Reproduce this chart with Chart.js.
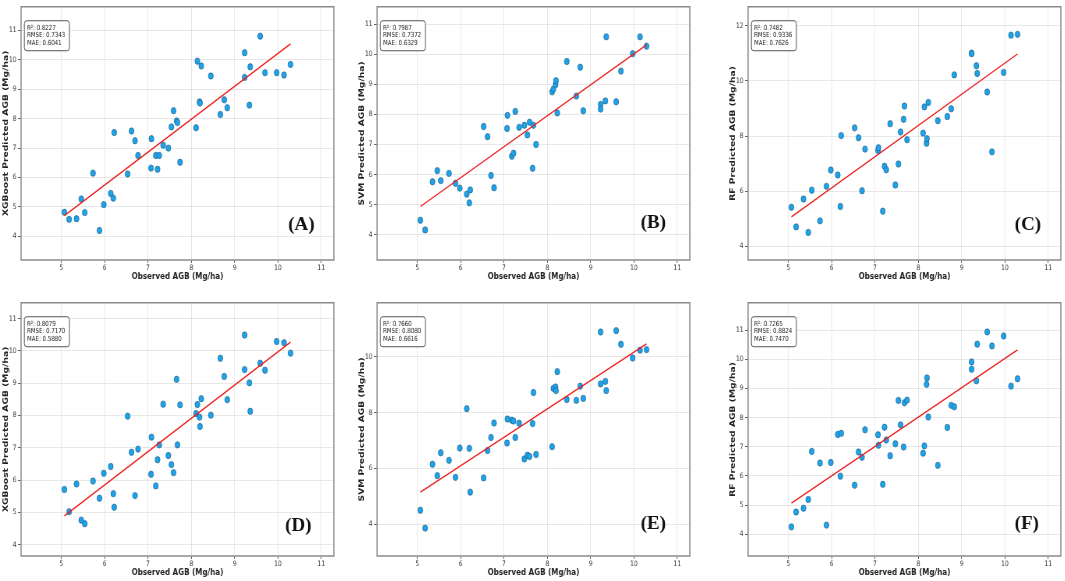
<!DOCTYPE html>
<html>
<head>
<meta charset="utf-8">
<script src="https://cdn.jsdelivr.net/npm/chart.js@4.4.1/dist/chart.umd.min.js"></script>
<style>
  html, body { margin: 0; padding: 0; background: #fff; }
  body { width: 1065px; height: 581px; overflow: hidden; position: relative; }
  canvas { position: absolute; transform-origin: 0 0; }
</style>
</head>
<body>
<script>
// observed AGB of the test plots (same for every panel)
const observed = [5.07, 5.18, 5.35, 5.46, 5.54, 5.73, 5.88, 5.98, 6.14, 6.20, 6.22, 6.53, 6.62, 6.70, 6.77,
  7.07, 7.08, 7.18, 7.22, 7.26, 7.35, 7.47, 7.54, 7.59, 7.66, 7.68, 7.74, 8.11, 8.14, 8.19,
  8.20, 8.23, 8.45, 8.67, 8.76, 8.83, 9.23, 9.23, 9.34, 9.36, 9.59, 9.70, 9.97, 10.14, 10.29];

// predicted values, one array per panel
const predA = [4.82, 4.58, 4.60, 5.27, 4.81, 6.15, 4.20, 5.08, 5.46, 5.30, 7.53, 6.12, 7.58, 7.25, 6.75,
  6.32, 7.32, 6.75, 6.28, 6.75, 7.10, 7.00, 7.72, 8.27, 7.92, 7.87, 6.52, 7.69, 9.95, 8.57,
  8.53, 9.79, 9.45, 8.14, 8.64, 8.37, 10.24, 9.40, 8.46, 9.76, 10.80, 9.56, 9.56, 9.48, 9.84];
const predB = [4.48, 4.16, 5.76, 6.13, 5.80, 6.04, 5.71, 5.55, 5.35, 5.06, 5.49, 7.60, 7.26, 5.97, 5.56,
  7.53, 7.97, 6.61, 6.71, 8.10, 7.57, 7.64, 7.32, 7.74, 6.21, 7.64, 7.00, 8.75, 8.84, 8.99,
  9.12, 8.05, 9.76, 8.61, 9.57, 8.12, 8.33, 8.18, 8.45, 10.58, 8.42, 9.44, 10.02, 10.58, 10.27];
const predC = [5.42, 4.71, 5.72, 4.51, 6.04, 4.93, 6.18, 6.77, 6.59, 5.45, 8.02, 8.30, 7.94, 6.02, 7.53,
  7.48, 7.58, 5.28, 6.91, 6.78, 8.45, 6.23, 6.99, 8.15, 8.61, 9.09, 7.87, 8.11, 9.06, 7.74,
  7.91, 9.22, 8.56, 8.71, 8.99, 10.22, 11.01, 10.99, 10.55, 10.27, 9.60, 7.43, 10.31, 11.66, 11.69];
const predD = [5.71, 5.02, 5.88, 4.76, 4.65, 5.97, 5.44, 6.21, 6.42, 5.58, 5.16, 7.98, 6.86, 5.52, 6.96,
  6.18, 7.33, 5.82, 6.63, 7.09, 8.35, 6.76, 6.48, 6.23, 9.12, 7.09, 8.33, 8.06, 8.34, 7.95,
  7.66, 8.52, 8.01, 9.77, 9.21, 8.49, 10.49, 9.42, 9.01, 8.13, 9.62, 9.40, 10.29, 10.25, 9.93];
const predE = [4.50, 3.86, 6.15, 5.74, 6.56, 6.29, 5.68, 6.73, 8.14, 6.72, 5.15, 5.66, 6.64, 7.11, 7.63,
  6.91, 7.77, 7.73, 7.70, 7.11, 7.62, 6.34, 6.47, 6.43, 7.61, 8.72, 6.50, 6.78, 8.87, 8.92,
  8.79, 9.47, 8.47, 8.44, 8.95, 8.51, 10.89, 9.03, 9.12, 8.79, 10.94, 10.45, 9.96, 10.24, 10.26];
const predF = [4.25, 4.76, 4.89, 5.19, 6.84, 6.44, 4.31, 6.46, 7.42, 5.99, 7.46, 5.68, 6.82, 6.64, 7.58,
  7.41, 7.05, 5.71, 7.67, 7.23, 6.69, 7.10, 8.59, 7.75, 6.99, 8.51, 8.60, 6.78, 7.03, 9.14,
  9.36, 8.02, 6.36, 7.66, 8.42, 8.37, 9.91, 9.66, 9.26, 10.52, 10.94, 10.46, 10.80, 9.08, 9.33];

const predictions = [predA, predB, predC, predD, predE, predF];
const models = ["XGBoost", "SVM", "RF", "XGBoost", "SVM", "RF"];
const letters = ["(A)", "(B)", "(C)", "(D)", "(E)", "(F)"];
const r2 = [0.8227, 0.7987, 0.7482, 0.8079, 0.7660, 0.7265];
const rmse = [0.7343, 0.7372, 0.9336, 0.7170, 0.8080, 0.8824];
const mae = [0.6041, 0.6329, 0.7626, 0.5880, 0.6616, 0.7470];
const yStep = [1, 1, 2, 1, 2, 1];

// the source figure is squashed sideways, so every panel is drawn wide and scaled down
const SQUEEZE = 0.78;
const AXIS_W = 27, AXIS_H = 24, PAD_R = 6, PAD_T = 2;
const PLOT_W = 313, PLOT_H = 257;
// plot-area corner on the page, and where the panel letter sits (from bottom-right corner)
const panelPos = [
  { left: 21,    top: 3,     lx: -32.5, ly: -30.5 },
  { left: 376.7, top: 3,     lx: -36.5, ly: -32 },
  { left: 748.3, top: 3,     lx: -33,   ly: -30.5 },
  { left: 21,    top: 299.3, lx: -35.5, ly: -25.5 },
  { left: 377,   top: 299.3, lx: -36.5, ly: -27.5 },
  { left: 748.3, top: 299.3, lx: -34,   ly: -27.5 }
];

function fitLine(xs, ys) {
  const n = xs.length;
  const mx = xs.reduce((a, b) => a + b, 0) / n;
  const my = ys.reduce((a, b) => a + b, 0) / n;
  let sxy = 0, sxx = 0;
  for (let i = 0; i < n; i++) {
    sxy += (xs[i] - mx) * (ys[i] - my);
    sxx += (xs[i] - mx) * (xs[i] - mx);
  }
  const m = sxy / sxx, c = my - m * mx;
  const x0 = Math.min(...xs), x1 = Math.max(...xs);
  return [{ x: x0, y: m * x0 + c }, { x: x1, y: m * x1 + c }];
}

const panelDecor = {
  id: 'panelDecor',
  afterDraw(chart, args, opts) {
    const ctx = chart.ctx, a = chart.chartArea;
    ctx.save();
    // frame
    ctx.strokeStyle = '#8a8a8a';
    ctx.lineWidth = 1.5;
    ctx.strokeRect(a.left, a.top, a.right - a.left, a.bottom - a.top);

    // metrics box
    ctx.font = '7px "DejaVu Sans"';
    const tw = Math.max(...opts.lines.map(l => ctx.measureText(l).width));
    const bx = a.left + 4.2, by = a.top + 14, bw = tw + 9, bh = 30, r = 3;
    ctx.beginPath();
    ctx.moveTo(bx + r, by);
    ctx.arcTo(bx + bw, by, bx + bw, by + bh, r);
    ctx.arcTo(bx + bw, by + bh, bx, by + bh, r);
    ctx.arcTo(bx, by + bh, bx, by, r);
    ctx.arcTo(bx, by, bx + bw, by, r);
    ctx.closePath();
    ctx.fillStyle = '#fff';
    ctx.fill();
    ctx.strokeStyle = '#555';
    ctx.lineWidth = 1;
    ctx.stroke();
    ctx.fillStyle = '#222';
    ctx.textBaseline = 'middle';
    ctx.textAlign = 'left';
    opts.lines.forEach((l, k) => ctx.fillText(l, bx + 3.5, by + 7.4 + k * 7.3));

    // panel letter, added unsquashed
    ctx.translate(a.right + opts.lx / SQUEEZE, a.bottom + opts.ly);
    ctx.scale(1 / SQUEEZE, 1);
    ctx.font = 'bold 19px "Liberation Serif"';
    ctx.fillStyle = '#111';
    ctx.textAlign = 'center';
    ctx.textBaseline = 'alphabetic';
    ctx.fillText(opts.letter, 0, 0);
    ctx.restore();
  }
};

const tickFont = { family: 'DejaVu Sans', size: 7.5, lineHeight: 1 };
const titleFont = { family: 'DejaVu Sans', size: 9.2, weight: 'bold' };

predictions.forEach((pred, i) => {
  const p = panelPos[i];
  const cv = document.createElement('canvas');
  cv.width = Math.round(AXIS_W + PLOT_W / SQUEEZE + PAD_R);
  cv.height = PAD_T + PLOT_H + AXIS_H;
  cv.style.width = cv.width + 'px';
  cv.style.height = cv.height + 'px';
  cv.style.left = (p.left - AXIS_W * SQUEEZE) + 'px';
  cv.style.top = (p.top - PAD_T) + 'px';
  cv.style.transform = 'scaleX(' + SQUEEZE + ')';
  document.body.appendChild(cv);

  const points = observed.map((x, k) => ({ x: x, y: pred[k] }));

  new Chart(cv, {
    type: 'scatter',
    data: {
      datasets: [
        {
          type: 'line',
          data: fitLine(observed, pred),
          borderColor: '#ee1c1c',
          borderWidth: 1.4,
          pointRadius: 0,
          order: 0
        },
        {
          data: points,
          backgroundColor: '#1fa3e8',
          borderColor: '#235a80',
          borderWidth: 0.6,
          pointRadius: 3.2,
          order: 1
        }
      ]
    },
    plugins: [panelDecor],
    options: {
      responsive: false,
      animation: false,
      events: [],
      layout: { padding: { top: PAD_T, right: PAD_R, left: 0, bottom: 0 } },
      plugins: {
        legend: { display: false },
        tooltip: { enabled: false },
        panelDecor: {
          letter: letters[i],
          lines: ['R\u00b2: ' + r2[i].toFixed(4), 'RMSE: ' + rmse[i].toFixed(4), 'MAE: ' + mae[i].toFixed(4)],
          lx: p.lx,
          ly: p.ly
        }
      },
      scales: {
        x: {
          type: 'linear',
          min: Math.min(...observed) - 1,
          max: Math.max(...observed) + 1,
          border: { display: false },
          grid: { color: 'rgba(0,0,0,0.09)', tickColor: '#666', tickLength: 3 },
          ticks: { stepSize: 1, includeBounds: false, font: tickFont, color: '#333', padding: 1, maxRotation: 0 },
          title: { display: true, text: 'Observed AGB (Mg/ha)', font: titleFont, color: '#222', padding: { top: 0, bottom: 1.5 } },
          afterFit: s => { s.height = AXIS_H; }
        },
        y: {
          type: 'linear',
          min: Math.min(...pred) - 1,
          max: Math.max(...pred) + 1,
          border: { display: false },
          grid: { color: 'rgba(0,0,0,0.09)', tickColor: '#666', tickLength: 4 },
          ticks: { stepSize: yStep[i], includeBounds: false, font: tickFont, color: '#333', padding: 2 },
          title: { display: true, text: models[i] + ' Predicted AGB (Mg/ha)', font: { ...titleFont, lineHeight: 1 }, color: '#222', padding: { top: 3, bottom: 0 } },
          afterFit: s => { s.width = AXIS_W; }
        }
      }
    }
  });
});
</script>
</body>
</html>
